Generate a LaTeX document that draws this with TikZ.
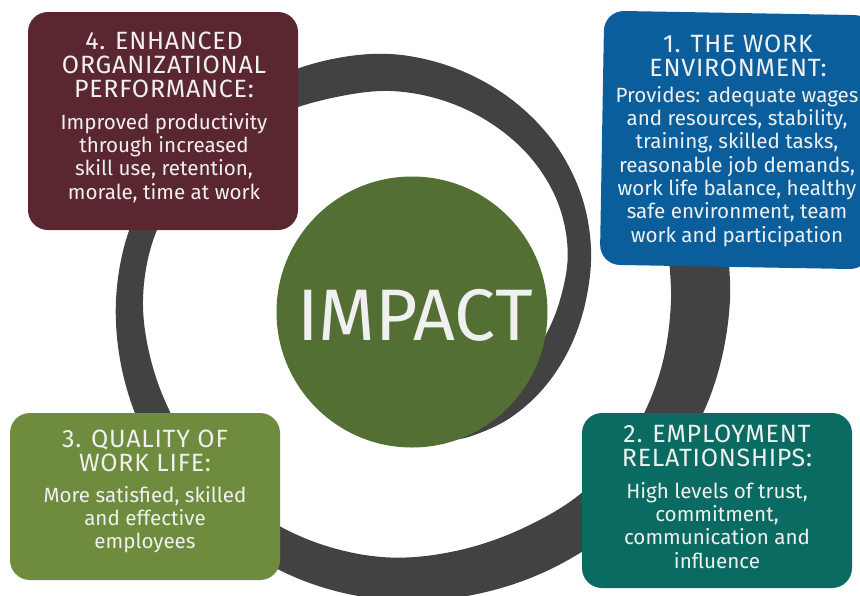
\documentclass[tikz,border=0pt]{standalone}
\usepackage{fontspec}
\setmainfont{Fira Sans}
\newfontfamily\headfont[LetterSpace=3]{Fira Sans}
\definecolor{bandgray}{HTML}{424242}
\definecolor{maroon}{HTML}{5A2731}
\definecolor{blueone}{HTML}{0B5E9C}
\definecolor{olive}{HTML}{6F8B3D}
\definecolor{tealtwo}{HTML}{0A6B62}
\definecolor{impactgreen}{HTML}{546F34}
\definecolor{txt}{HTML}{F0F0F0}
\begin{document}
\begin{tikzpicture}[x=1pt,y=-1pt,
  panel/.style={draw=none, rounded corners=20pt, inner sep=0pt},
  head/.style={text=txt, align=center, inner sep=0pt, anchor=north, font=\headfont\fontsize{25}{24}\selectfont},
  bodytext/.style={text=txt, align=center, inner sep=0pt, anchor=north, font=\fontsize{20.6}{23.3}\selectfont}]
\useasboundingbox (0,0) rectangle (860,595);
% spiral band (polar about (390,300); written angle = minus visual angle)
\begin{scope}[shift={(390,300)}]
\fill[bandgray] plot[smooth, tension=0.6] coordinates {
  (70:150) (60:158) (45:168) (30:177) (15:186) (0:196) (-15:208) (-30:219)
  (-45:228) (-60:235) (-75:241) (-90:246) (-105:248) (-120:251) (-135:256)
  (-150:263) (-165:270) (-180:274) (-195:277) (-210:280.5) (-225:284)
  (-240:289) (-255:294.5) (-270:300) (-285:306) (-300:313) (-315:320.5)
  (-330:328) (-345:335) (-360:340) (-375:345)}
  -- plot[smooth, tension=0.6] coordinates {
  (-375:285) (-360:281) (-345:279.5) (-330:277) (-315:272) (-300:264)
  (-285:259.5) (-270:257.5) (-255:254) (-240:251) (-225:249) (-210:247)
  (-195:246.5) (-180:247) (-165:244) (-150:236) (-135:226) (-120:216)
  (-105:210) (-90:209) (-75:206.5) (-60:203.5) (-45:200) (-30:194)
  (-15:184) (0:170) (15:158) (30:148) (45:141) (60:136) (70:133)} -- cycle;
\end{scope}
% centre circle
\node[circle, fill=impactgreen, minimum size=271, inner sep=0pt] (impact) at (412,312) {};
\node[text=txt, inner sep=0pt, anchor=base, font=\fontsize{73}{73}\selectfont] (impacttxt) at (415,340) {IMPACT};
% box 4
\node[panel, fill=maroon, minimum width=270, minimum height=218] (b4) at (163,121) {};
\node[head] (b4h) at (164,32) {4. ENHANCED\\ORGANIZATIONAL\\PERFORMANCE:};
\node[bodytext] (b4b) at (164,113) {Improved productivity\\through increased\\skill use, retention,\\morale, time at work};
% box 1
\node[panel, fill=blueone, minimum width=270, minimum height=254, rotate=-1] (b1) at (737,140) {};
\node[head] (b1h) at (738,35) {1. THE WORK\\ENVIRONMENT:};
\node[bodytext] (b1b) at (737,86) {Provides: adequate wages\\and resources, stability,\\training, skilled tasks,\\reasonable job demands,\\work life balance, healthy\\safe environment, team\\work and participation};
% box 3
\node[panel, fill=olive, minimum width=270, minimum height=167] (b3) at (145,496.5) {};
\node[head] (b3h) at (145,430) {3. QUALITY OF\\WORK LIFE:};
\node[bodytext] (b3b) at (145,486) {More satisfied, skilled\\and effective\\employees};
% box 2
\node[panel, fill=tealtwo, minimum width=270, minimum height=175] (b2) at (717,500.5) {};
\node[head] (b2h) at (717,425) {2. EMPLOYMENT\\RELATIONSHIPS:};
\node[bodytext] (b2b) at (717,482) {High levels of trust,\\commitment,\\communication and\\influence};
\end{tikzpicture}
\end{document}
